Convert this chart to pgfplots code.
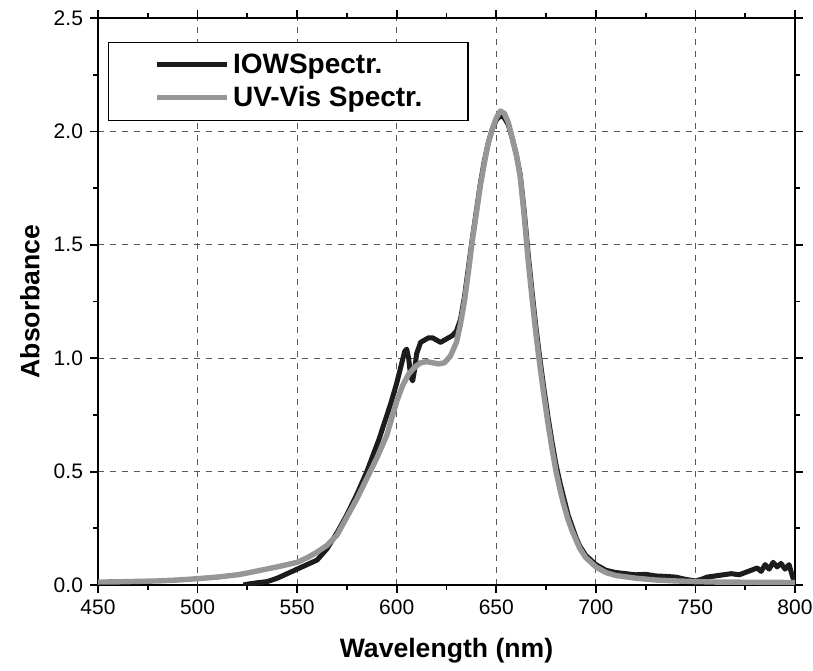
\documentclass[border=0pt]{standalone}
\usepackage{pgfplots}
\pgfplotsset{compat=1.18}
\usepackage{fontspec}
\setmainfont{Liberation Sans}
\definecolor{iowblack}{RGB}{28,28,28}
\definecolor{uvgray}{RGB}{150,150,152}

\begin{document}
\begin{tikzpicture}
\path[use as bounding box] (-49pt,-42.5pt) rectangle (357.5pt,292.5pt);
\begin{axis}[
  width=348.5pt, height=283.5pt, scale only axis,
  xmin=450, xmax=800, ymin=0, ymax=2.5,
  xtick={450,500,...,800}, minor x tick num=1,
  ytick={0,0.5,...,2.5}, minor y tick num=1,
  tick align=outside, major tick length=4pt, minor tick length=2.5pt,
  axis line style={line width=0.9pt},
  every tick/.style={line width=0.9pt, black},
  grid=major, grid style={dashed, black!65, line width=0.5pt},
  y tick label style={/pgf/number format/.cd, fixed, fixed zerofill, precision=1, /tikz/.cd},
  /pgf/number format/assume math mode=true,
  tick label style={font=\fontsize{10.5}{12}\selectfont},
  xlabel={\textbf{Wavelength (nm)}}, ylabel={\textbf{Absorbance}},
  label style={font=\fontsize{13.3}{15}\selectfont},
  xlabel style={at={(axis description cs:0.5,-0.1164)}, anchor=center},
  ylabel style={at={(axis description cs:-0.0976,0.5)}, anchor=center},
  legend style={at={(axis description cs:0.0144,0.9577)}, anchor=north west,
    draw=black, line width=0.6pt, inner xsep=23pt, inner ysep=3.5pt,
    nodes={inner xsep=1.5pt, inner ysep=2pt},
    font=\fontsize{14}{16}\selectfont\bfseries, row sep=1pt},
  legend cell align=left,
  legend image code/.code={\draw[#1] (0pt,0pt) -- (35pt,0pt);},
]
\addplot[iowblack, line width=2.5pt, line join=round] coordinates {
(523,0.0)(526,0.005)(530,0.01)(535,0.015)(540,0.03)(545,0.05)(550,0.07)
(555,0.09)(560,0.11)(565,0.16)(570,0.23)(575,0.31)(580,0.40)(585,0.50)
(588,0.57)(591,0.64)(594,0.72)(597,0.80)(600,0.89)(602,0.96)(604,1.03)
(605,1.04)(606,1.00)(607,0.92)(608,0.90)(609,0.95)(610,1.02)(612,1.07)
(614,1.08)(616,1.09)(618,1.09)(620,1.08)(622,1.07)(624,1.08)(626,1.09)
(628,1.10)(630,1.12)(632,1.17)(634,1.27)(636,1.40)(638,1.53)(640,1.65)
(642,1.77)(644,1.87)(646,1.95)(648,2.01)(650,2.05)(652,2.07)(654,2.06)
(656,2.03)(658,1.97)(660,1.90)(662,1.81)(664,1.65)(666,1.46)(668,1.29)
(670,1.13)(672,0.99)(674,0.86)(676,0.74)(678,0.63)(680,0.53)(682,0.45)
(684,0.38)(686,0.31)(688,0.26)(690,0.21)(692,0.17)(695,0.13)(700,0.09)
(705,0.065)(710,0.055)(715,0.05)(720,0.045)(725,0.047)(730,0.04)(735,0.038)
(740,0.035)(745,0.025)(750,0.018)(753,0.025)(756,0.035)(760,0.04)(764,0.045)
(768,0.05)(772,0.045)(775,0.055)(778,0.065)(781,0.075)(783,0.06)(785,0.09)
(787,0.07)(789,0.10)(791,0.08)(793,0.095)(795,0.07)(797,0.09)(799,0.03)(800,0.02)
};
\addlegendentry{\makebox[93pt][l]{IOWSpectr.}}
\addplot[uvgray, line width=2.7pt, line join=round] coordinates {
(450,0.013)(460,0.014)(470,0.016)(480,0.018)(490,0.022)(500,0.028)(510,0.035)
(520,0.045)(525,0.053)(530,0.062)(540,0.08)(550,0.10)(555,0.12)(560,0.145)
(565,0.175)(570,0.22)(575,0.3)(580,0.38)(585,0.47)(590,0.56)(595,0.66)
(600,0.81)(603,0.88)(606,0.93)(609,0.96)(612,0.98)(615,0.985)(618,0.98)
(621,0.975)(624,0.98)(627,1.01)(630,1.07)(632,1.15)(634,1.25)(636,1.38)
(638,1.52)(640,1.64)(642,1.76)(644,1.86)(646,1.95)(648,2.01)(650,2.06)
(652,2.09)(654,2.08)(656,2.04)(658,1.97)(660,1.90)(662,1.80)(664,1.63)
(666,1.43)(668,1.26)(670,1.10)(672,0.96)(674,0.83)(676,0.71)(678,0.60)
(680,0.50)(682,0.42)(684,0.35)(686,0.29)(688,0.24)(690,0.20)(692,0.16)
(695,0.12)(700,0.08)(705,0.055)(710,0.042)(720,0.03)(730,0.022)(740,0.018)
(750,0.015)(760,0.013)(780,0.012)(800,0.011)
};
\addlegendentry{\makebox[93pt][l]{UV-Vis Spectr.}}
\end{axis}
\end{tikzpicture}
\end{document}
